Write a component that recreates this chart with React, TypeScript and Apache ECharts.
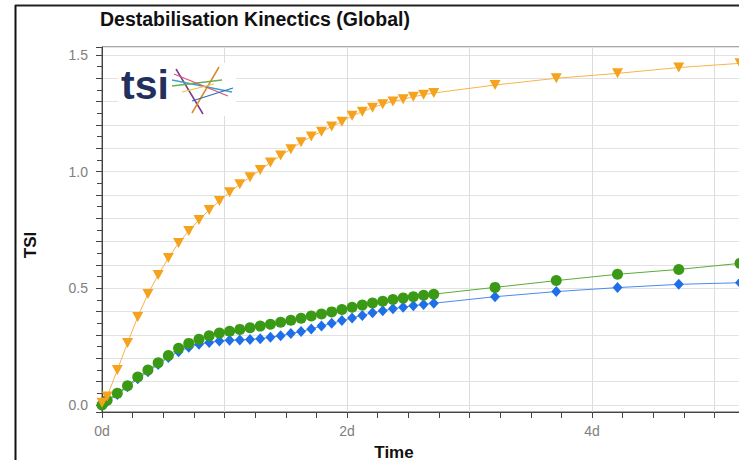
import React, { useEffect, useRef } from "react";
import * as echarts from "echarts";

// time in hours
const hours = [0, 1, 3, 5, 7, 9, 11, 13, 15, 17, 19, 21, 23, 25, 27, 29, 31, 33, 35, 37, 39, 41, 43, 45, 47, 49, 51, 53, 55, 57, 59, 61, 63, 65, 77, 89, 101, 113, 125];

const orangeTSI = [0.01, 0.036, 0.15, 0.266, 0.377, 0.476, 0.557, 0.63, 0.694, 0.746, 0.793, 0.836, 0.874, 0.912, 0.946, 0.976, 1.007, 1.039, 1.069, 1.096, 1.126, 1.15, 1.171, 1.193, 1.214, 1.239, 1.257, 1.274, 1.289, 1.3, 1.31, 1.321, 1.329, 1.337, 1.371, 1.4, 1.421, 1.446, 1.464];

const greenTSI = [0, 0.02, 0.05, 0.082, 0.12, 0.15, 0.181, 0.212, 0.243, 0.264, 0.282, 0.297, 0.308, 0.316, 0.324, 0.331, 0.338, 0.346, 0.355, 0.363, 0.372, 0.381, 0.39, 0.399, 0.409, 0.419, 0.428, 0.437, 0.445, 0.452, 0.458, 0.464, 0.47, 0.475, 0.504, 0.533, 0.56, 0.581, 0.607];

const blueTSI = [0, 0.015, 0.045, 0.078, 0.112, 0.143, 0.174, 0.204, 0.228, 0.247, 0.26, 0.268, 0.274, 0.277, 0.279, 0.281, 0.284, 0.29, 0.297, 0.306, 0.315, 0.326, 0.338, 0.35, 0.362, 0.373, 0.384, 0.395, 0.404, 0.412, 0.419, 0.425, 0.431, 0.436, 0.464, 0.486, 0.503, 0.517, 0.524];

const titleText = "Destabilisation Kinectics (Global)";
const xName = "Time";
const yName = "TSI";

const FONT = "'Liberation Sans', Arial, sans-serif";

function pairs(vals: number[]) {
  return hours.map((h, i) => [h, vals[i]]);
}

export default function App() {
  const ref = useRef<HTMLDivElement>(null);
  useEffect(() => {
    document.body.style.margin = "0";
    if (!ref.current) return;
    const chart = echarts.init(ref.current, null, { renderer: "svg" });
    const option: any = {
      animation: false,
      backgroundColor: "#ffffff",
      textStyle: { fontFamily: FONT },
      title: {
        text: titleText,
        left: 100,
        top: 9,
        padding: 0,
        textStyle: { fontSize: 19.5, fontWeight: "bold", color: "#111", fontFamily: FONT },
      },
      grid: {
        left: 102,
        right: -98,
        top: 47,
        bottom: 48,
        show: true,
        borderColor: "#555",
        borderWidth: 1,
        containLabel: false,
        outerBoundsMode: "none",
      },
      xAxis: {
        type: "value",
        min: 0,
        max: 144,
        interval: 24,
        axisLine: { show: true, onZero: false, lineStyle: { color: "#444", width: 1 } },
        axisTick: { show: true, length: 6, lineStyle: { color: "#444" } },
        minorTick: { show: true, splitNumber: 4, length: 6, lineStyle: { color: "#444" } },
        splitLine: { show: true, lineStyle: { color: "#dcdcdc", width: 1 } },
        axisLabel: {
          color: "#808080",
          fontSize: 14,
          margin: 12,
          showMaxLabel: false,
          formatter: (v: number) =>
            Math.round(v) % 48 === 0 && v < 140 ? `${Math.round(v / 24)}d` : "",
        },
      },
      yAxis: {
        type: "value",
        min: -0.03,
        max: 1.534,
        splitNumber: 15,
        axisLine: { show: true, onZero: false, lineStyle: { color: "#444", width: 1 } },
        axisTick: { show: true, length: 6, lineStyle: { color: "#444" } },
        minorTick: { show: true, splitNumber: 2, length: 5, lineStyle: { color: "#444" } },
        splitLine: { show: true, lineStyle: { color: "#e2e2e2", width: 1 } },
        axisLabel: {
          color: "#808080",
          fontSize: 14,
          margin: 14,
          formatter: (v: number) =>
            Math.abs(v * 2 - Math.round(v * 2)) < 1e-6 ? v.toFixed(1) : "",
        },
      },
      series: [
        {
          type: "line",
          name: "blue",
          data: pairs(blueTSI),
          symbol: "diamond",
          symbolSize: [10, 11],
          itemStyle: { color: "#1f6fe8" },
          lineStyle: { color: "#4a8af0", width: 1 },
          z: 2,
        },
        {
          type: "line",
          name: "green",
          data: pairs(greenTSI),
          symbol: "circle",
          symbolSize: 11,
          itemStyle: { color: "#3a9a16" },
          lineStyle: { color: "#5aab3a", width: 1 },
          z: 3,
        },
        {
          type: "line",
          name: "orange",
          data: pairs(orangeTSI),
          symbol: "triangle",
          symbolRotate: 180,
          symbolSize: [11, 10],
          itemStyle: { color: "#f5a21e" },
          lineStyle: { color: "#f7b44a", width: 1 },
          z: 4,
        },
      ],
      graphic: [
        // outer frame
        { type: "line", shape: { x1: 15.5, y1: 5, x2: 15.5, y2: 460 }, style: { stroke: "#111", lineWidth: 2 }, z: 100 },
        { type: "line", shape: { x1: 15, y1: 5.5, x2: 739, y2: 5.5 }, style: { stroke: "#222", lineWidth: 2 }, z: 100 },
        // axis names
        {
          type: "text",
          x: 394,
          y: 452,
          style: { text: xName, font: `bold 17px ${FONT}`, fill: "#111", align: "center", verticalAlign: "middle" },
          z: 100,
        },
        {
          type: "text",
          x: 30,
          y: 245,
          rotation: Math.PI / 2,
          style: { text: yName, font: `bold 17px ${FONT}`, fill: "#111", align: "center", verticalAlign: "middle" },
          z: 100,
        },
        // logo
        { type: "rect", shape: { x: 118, y: 63, width: 118, height: 53 }, style: { fill: "#fff" }, z: 50 },
        {
          type: "text",
          x: 121,
          y: 105,
          style: { text: "tsi", font: `bold 41px ${FONT}`, fill: "#22305e", verticalAlign: "bottom" },
          z: 51,
        },
        { type: "line", shape: { x1: 176, y1: 69, x2: 203, y2: 114 }, style: { stroke: "#7b3b8e", lineWidth: 1.5 }, z: 51 },
        { type: "line", shape: { x1: 219, y1: 67, x2: 192, y2: 113 }, style: { stroke: "#d98a2b", lineWidth: 1.5 }, z: 51 },
        { type: "line", shape: { x1: 172, y1: 80, x2: 232, y2: 92 }, style: { stroke: "#39a2c9", lineWidth: 1.5 }, z: 51 },
        { type: "line", shape: { x1: 172, y1: 86, x2: 222, y2: 80 }, style: { stroke: "#6ab04c", lineWidth: 1.5 }, z: 51 },
        { type: "line", shape: { x1: 174, y1: 74, x2: 228, y2: 96 }, style: { stroke: "#e0507c", lineWidth: 1.2 }, z: 51 },
        { type: "line", shape: { x1: 192, y1: 101, x2: 233, y2: 88 }, style: { stroke: "#2f6db5", lineWidth: 1.2 }, z: 51 },
        { type: "line", shape: { x1: 182, y1: 92, x2: 214, y2: 84 }, style: { stroke: "#f1c232", lineWidth: 1.2 }, z: 51 },
      ],
    };
    chart.setOption(option);
    return () => chart.dispose();
  }, []);
  return <div ref={ref} style={{ width: 739, height: 460 }} />;
}
